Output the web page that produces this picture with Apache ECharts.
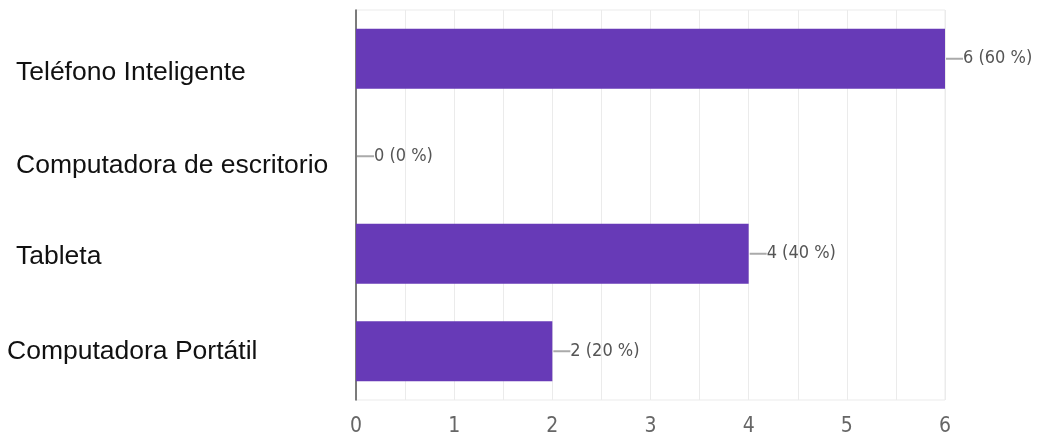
<!DOCTYPE html>
<html>
<head>
<meta charset="utf-8">
<script src="https://cdn.jsdelivr.net/npm/echarts@6/dist/echarts.min.js"></script>
<style>html,body{margin:0;padding:0;background:#fff}#c{width:1039px;height:437px}</style>
</head>
<body>
<div id="c"></div>
<script>
const categories = ['Teléfono Inteligente', 'Computadora de escritorio', 'Tableta', 'Computadora Portátil'];
const values = [6, 0, 4, 2];
const percents = [60, 0, 40, 20];
const xTicks = [0, 1, 2, 3, 4, 5, 6];

const labelKeys = ['c0', 'c1', 'c2', 'c3'];
const catFont = { fontFamily: 'Liberation Sans, Arial, sans-serif', fontSize: 26.5, color: '#111' };
const narrowFamily = '"Liberation Sans Narrow", "DejaVu Sans Condensed", "DejaVu Sans", sans-serif';

const chart = echarts.init(document.getElementById('c'), null, { renderer: 'canvas' });
chart.setOption({
  animation: false,
  grid: { left: 356, right: 94, top: 10, bottom: 37, show: true, borderColor: '#ebebeb', borderWidth: 1 },
  xAxis: {
    type: 'value', min: 0, max: 6, interval: 0.5,
    axisLine: { show: false }, axisTick: { show: false },
    splitLine: { show: true, lineStyle: { color: '#ebebeb', width: 1 } },
    axisLabel: {
      margin: 16, color: '#666', fontSize: 21, fontWeight: 'condensed',
      fontFamily: narrowFamily,
      formatter: v => (xTicks.indexOf(v) >= 0 ? String(v) : '')
    }
  },
  yAxis: {
    type: 'category', inverse: true, data: categories,
    axisLine: { show: true, lineStyle: { color: '#555', width: 1.5 } },
    axisTick: { show: false },
    splitLine: { show: false },
    axisLabel: {
      align: 'left', margin: 349,
      formatter: (v, i) => '{' + labelKeys[i] + '|' + v + '}',
      rich: {
        c0: Object.assign({ padding: [28, 0, 0, 9] }, catFont),
        c1: Object.assign({ padding: [18, 0, 0, 9] }, catFont),
        c2: Object.assign({ padding: [5, 0, 0, 9] }, catFont),
        c3: Object.assign({ padding: [0, 0, 0, 0] }, catFont)
      }
    }
  },
  series: [{
    type: 'bar',
    data: values,
    barWidth: 60,
    itemStyle: { color: '#673ab7' },
    label: {
      show: true, position: 'right', distance: 1,
      formatter: p => '{l|}{v|' + values[p.dataIndex] + ' (' + percents[p.dataIndex] + ' %)}',
      rich: {
        l: { width: 17, height: 2, backgroundColor: '#aaa' },
        v: { fontSize: 18, color: '#555', fontWeight: 'condensed', fontFamily: narrowFamily }
      }
    }
  }]
});
</script>
</body>
</html>
